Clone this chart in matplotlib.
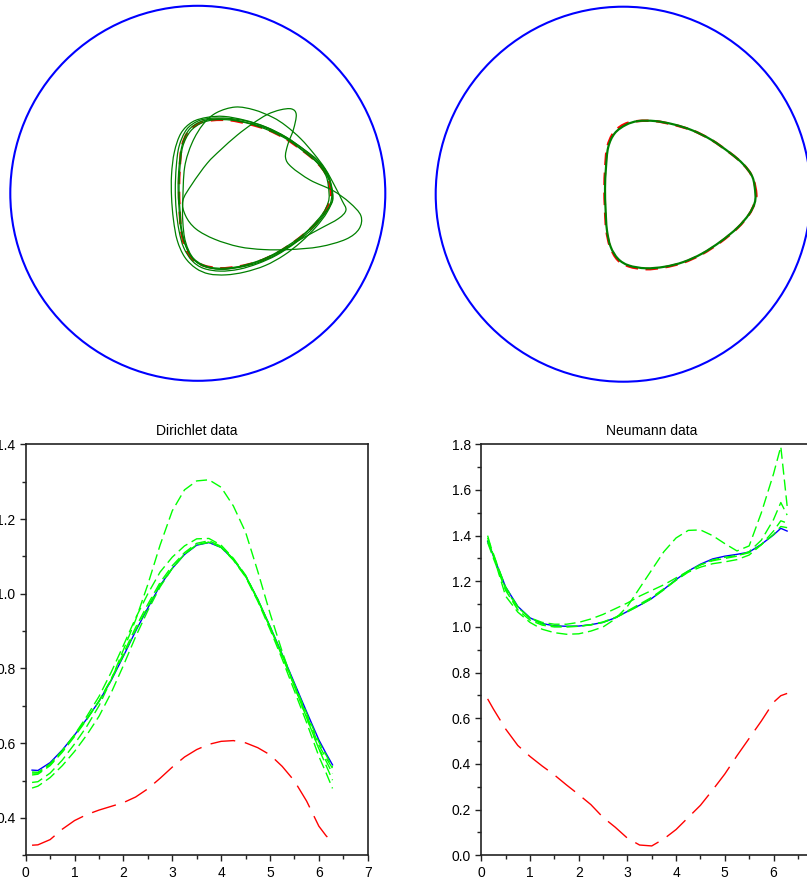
import numpy as np
import matplotlib
matplotlib.use("Agg")
import matplotlib.pyplot as plt
from matplotlib.patches import Circle, PathPatch
from matplotlib.path import Path
from matplotlib.ticker import MultipleLocator, FormatStrFormatter

plt.rcParams["font.family"] = ["Liberation Sans", "DejaVu Sans"]

# ---------------------------------------------------------------------------
# boundary data, sampled on the unit circle parameter t
# ---------------------------------------------------------------------------
t = [0.13, 0.25, 0.5, 0.75, 1.0, 1.25, 1.5, 1.75, 2.0, 2.25, 2.5, 2.75, 3.0,
     3.25, 3.5, 3.75, 4.0, 4.25, 4.5, 4.75, 5.0, 5.25, 5.5, 5.75, 6.0, 6.15, 6.28]

dir_true = [0.528, 0.527, 0.548, 0.582, 0.622, 0.665, 0.712, 0.768, 0.833, 0.900, 0.962,
            1.022, 1.068, 1.105, 1.130, 1.137, 1.124, 1.092, 1.048, 0.985, 0.913, 0.838,
            0.761, 0.684, 0.609, 0.572, 0.542]
dir_init = [0.327, 0.328, 0.342, 0.370, 0.393, 0.409, 0.421, 0.431, 0.441, 0.456, 0.478,
            0.506, 0.536, 0.563, 0.583, 0.597, 0.605, 0.607, 0.601, 0.588, 0.569, 0.538,
            0.499, 0.445, 0.378, 0.352, 0.335]
dir_iter = [
    [0.495, 0.497, 0.520, 0.555, 0.598, 0.645, 0.700, 0.770, 0.850, 0.930, 1.025, 1.130, 1.222,
     1.278, 1.302, 1.305, 1.285, 1.235, 1.165, 1.060, 0.948, 0.845, 0.752, 0.668, 0.585, 0.552, 0.519],
    [0.520, 0.520, 0.543, 0.580, 0.623, 0.672, 0.725, 0.790, 0.862, 0.935, 1.000, 1.058, 1.098,
     1.128, 1.147, 1.148, 1.130, 1.095, 1.050, 0.985, 0.912, 0.835, 0.755, 0.675, 0.595, 0.560, 0.533],
    [0.515, 0.517, 0.540, 0.576, 0.618, 0.663, 0.712, 0.772, 0.840, 0.910, 0.972, 1.030, 1.075,
     1.110, 1.135, 1.142, 1.127, 1.093, 1.047, 0.983, 0.910, 0.832, 0.752, 0.668, 0.585, 0.540, 0.501],
    [0.480, 0.485, 0.508, 0.540, 0.578, 0.622, 0.672, 0.735, 0.808, 0.885, 0.955, 1.018, 1.068,
     1.106, 1.131, 1.138, 1.124, 1.090, 1.045, 0.980, 0.905, 0.825, 0.740, 0.655, 0.565, 0.520, 0.479],
    [0.523, 0.522, 0.545, 0.580, 0.621, 0.665, 0.713, 0.770, 0.835, 0.903, 0.965, 1.024, 1.068,
     1.106, 1.131, 1.138, 1.125, 1.092, 1.048, 0.985, 0.912, 0.836, 0.758, 0.680, 0.603, 0.568, 0.536],
]

neu_true = [1.375, 1.310, 1.175, 1.090, 1.040, 1.015, 1.005, 1.003, 1.004, 1.010, 1.020,
            1.040, 1.068, 1.095, 1.125, 1.165, 1.208, 1.245, 1.275, 1.298, 1.310, 1.318,
            1.328, 1.362, 1.403, 1.432, 1.420]
neu_init = [0.685, 0.640, 0.553, 0.481, 0.433, 0.391, 0.352, 0.308, 0.266, 0.222, 0.166,
            0.123, 0.075, 0.045, 0.041, 0.072, 0.113, 0.166, 0.219, 0.286, 0.356, 0.436,
            0.512, 0.588, 0.670, 0.699, 0.709]
neu_iter = [
    [1.400, 1.310, 1.135, 1.065, 1.020, 0.990, 0.975, 0.968, 0.970, 0.982, 1.000, 1.035, 1.090,
     1.170, 1.250, 1.330, 1.390, 1.423, 1.425, 1.400, 1.365, 1.333, 1.355, 1.500, 1.670, 1.790, 1.530],
    [1.390, 1.320, 1.165, 1.085, 1.040, 1.020, 1.012, 1.012, 1.020, 1.035, 1.055, 1.080, 1.105,
     1.135, 1.160, 1.185, 1.215, 1.245, 1.272, 1.290, 1.300, 1.310, 1.330, 1.380, 1.470, 1.545, 1.490],
    [1.370, 1.300, 1.160, 1.075, 1.030, 1.008, 1.000, 1.000, 1.003, 1.010, 1.022, 1.042, 1.070,
     1.100, 1.130, 1.168, 1.205, 1.240, 1.262, 1.277, 1.285, 1.295, 1.315, 1.360, 1.420, 1.465, 1.455],
    [1.380, 1.315, 1.175, 1.088, 1.038, 1.013, 1.004, 1.002, 1.003, 1.009, 1.020, 1.040, 1.066,
     1.094, 1.124, 1.163, 1.205, 1.243, 1.272, 1.294, 1.305, 1.313, 1.325, 1.360, 1.405, 1.440, 1.435],
]

# ---------------------------------------------------------------------------
# obstacles inside the unit disc (x, y points around each closed curve)
# ---------------------------------------------------------------------------
obst_true = [(0.71, 0.00), (0.69, 0.09), (0.64, 0.16), (0.57, 0.22), (0.47, 0.29), (0.37, 0.34),
             (0.27, 0.37), (0.17, 0.39), (0.08, 0.39), (0.01, 0.375), (-0.05, 0.33), (-0.085, 0.25),
             (-0.096, 0.14), (-0.10, 0.03), (-0.097, -0.08), (-0.09, -0.19), (-0.07, -0.28),
             (-0.03, -0.35), (0.03, -0.385), (0.12, -0.40), (0.22, -0.39), (0.32, -0.365),
             (0.42, -0.32), (0.52, -0.255), (0.61, -0.18), (0.67, -0.11), (0.70, -0.05)]

obst_iter = [
    [(0.70, 0.00), (0.685, 0.09), (0.635, 0.165), (0.565, 0.225), (0.47, 0.295), (0.37, 0.345),
     (0.27, 0.375), (0.17, 0.395), (0.08, 0.395), (0.01, 0.38), (-0.05, 0.335), (-0.085, 0.25),
     (-0.10, 0.14), (-0.105, 0.03), (-0.10, -0.08), (-0.09, -0.19), (-0.065, -0.28), (-0.025, -0.35),
     (0.035, -0.39), (0.12, -0.405), (0.22, -0.395), (0.32, -0.37), (0.42, -0.325), (0.52, -0.26),
     (0.60, -0.185), (0.665, -0.11), (0.695, -0.05)],
    [(0.72, -0.02), (0.70, 0.07), (0.65, 0.15), (0.575, 0.215), (0.48, 0.285), (0.38, 0.335),
     (0.28, 0.37), (0.18, 0.39), (0.09, 0.392), (0.02, 0.375), (-0.04, 0.33), (-0.08, 0.25),
     (-0.095, 0.14), (-0.10, 0.02), (-0.095, -0.09), (-0.085, -0.20), (-0.06, -0.29), (-0.02, -0.355),
     (0.04, -0.39), (0.13, -0.405), (0.23, -0.39), (0.33, -0.36), (0.43, -0.31), (0.53, -0.245),
     (0.62, -0.17), (0.68, -0.10), (0.71, -0.06)],
    [(0.715, 0.01), (0.695, 0.10), (0.64, 0.175), (0.565, 0.235), (0.47, 0.30), (0.37, 0.35),
     (0.26, 0.385), (0.16, 0.40), (0.07, 0.40), (0.0, 0.385), (-0.06, 0.34), (-0.10, 0.25),
     (-0.115, 0.14), (-0.12, 0.02), (-0.115, -0.09), (-0.10, -0.20), (-0.075, -0.29), (-0.03, -0.36),
     (0.03, -0.40), (0.12, -0.415), (0.22, -0.405), (0.32, -0.375), (0.42, -0.33), (0.52, -0.265),
     (0.61, -0.19), (0.67, -0.12), (0.705, -0.06)],
    [(0.72, -0.02), (0.70, 0.08), (0.645, 0.165), (0.57, 0.23), (0.47, 0.30), (0.36, 0.355),
     (0.25, 0.39), (0.14, 0.41), (0.05, 0.405), (-0.03, 0.38), (-0.09, 0.32), (-0.125, 0.22),
     (-0.14, 0.10), (-0.14, -0.02), (-0.13, -0.14), (-0.11, -0.25), (-0.07, -0.34), (-0.01, -0.40),
     (0.06, -0.43), (0.15, -0.435), (0.25, -0.42), (0.36, -0.385), (0.46, -0.33), (0.55, -0.26),
     (0.63, -0.18), (0.69, -0.10)],
    [(-0.08, -0.04), (-0.07, 0.14), (-0.03, 0.27), (0.03, 0.37), (0.10, 0.43), (0.20, 0.46),
     (0.30, 0.445), (0.40, 0.405), (0.47, 0.36), (0.55, 0.29), (0.62, 0.21), (0.68, 0.13),
     (0.73, 0.04), (0.77, -0.04), (0.79, -0.09), (0.75, -0.135), (0.65, -0.19), (0.54, -0.25),
     (0.43, -0.315), (0.31, -0.365), (0.19, -0.395), (0.07, -0.395), (-0.02, -0.35),
     (-0.065, -0.26), (-0.08, -0.15)],
    [(-0.08, -0.04), (-0.03, 0.05), (0.05, 0.16), (0.12, 0.23), (0.21, 0.31), (0.29, 0.37),
     (0.37, 0.42), (0.44, 0.445), (0.50, 0.45), (0.525, 0.42), (0.51, 0.34), (0.48, 0.26),
     (0.468, 0.19), (0.50, 0.14), (0.60, 0.07), (0.72, 0.015), (0.81, -0.05), (0.87, -0.12),
     (0.86, -0.19), (0.79, -0.245), (0.65, -0.285), (0.49, -0.30), (0.35, -0.30), (0.22, -0.285),
     (0.09, -0.245), (-0.01, -0.19), (-0.065, -0.12)],
]

obst_final = [(0.705, 0.0), (0.69, 0.09), (0.64, 0.16), (0.57, 0.22), (0.47, 0.29), (0.37, 0.34),
              (0.27, 0.372), (0.17, 0.39), (0.08, 0.39), (0.015, 0.37), (-0.045, 0.325), (-0.08, 0.25),
              (-0.092, 0.14), (-0.097, 0.03), (-0.094, -0.08), (-0.087, -0.19), (-0.067, -0.28),
              (-0.027, -0.345), (0.03, -0.38), (0.12, -0.395), (0.22, -0.387), (0.32, -0.362),
              (0.42, -0.317), (0.52, -0.252), (0.61, -0.178), (0.67, -0.108), (0.70, -0.05)]


def closed_path(pts):
    """Smooth closed Bezier path (Catmull-Rom) through the given points."""
    p = np.asarray(pts, float)
    n = len(p)
    verts = [p[0]]
    codes = [Path.MOVETO]
    for i in range(n):
        p0, p1, p2, p3 = p[i - 1], p[i], p[(i + 1) % n], p[(i + 2) % n]
        verts += [p1 + (p2 - p0) / 6, p2 - (p3 - p1) / 6, p2]
        codes += [Path.CURVE4] * 3
    return Path(verts, codes)


def disc_axes(fig, cx, cy, rad):
    W, H = 807.0, 882.0
    half = 1.05 * rad
    ax = fig.add_axes([(cx - half) / W, (H - cy - half) / H, 2 * half / W, 2 * half / H])
    ax.set_xlim(-1.05, 1.05)
    ax.set_ylim(-1.05, 1.05)
    ax.set_axis_off()
    ax.add_patch(Circle((0, 0), 1.0, fill=False, ec="#0000ff", lw=1.5, clip_on=False))
    ax.add_patch(PathPatch(closed_path(obst_true), fill=False, ec="#ff0000", lw=1.8,
                           linestyle=(0, (5, 3)), clip_on=False))
    return ax


def data_axes(fig, left, right, ylo, yhi):
    W, H = 807.0, 882.0
    top, bottom = 444.3, 855.3
    ax = fig.add_axes([left / W, (H - bottom) / H, (right - left) / W, (bottom - top) / H])
    ax.set_xlim(0, 7)
    ax.set_ylim(ylo, yhi)
    ax.xaxis.set_major_locator(MultipleLocator(1))
    ax.xaxis.set_minor_locator(MultipleLocator(0.5))
    ax.yaxis.set_major_locator(MultipleLocator(0.2))
    ax.yaxis.set_minor_locator(MultipleLocator(0.1))
    ax.yaxis.set_major_formatter(FormatStrFormatter("%.1f"))
    ax.tick_params(which="both", direction="out", top=False, right=False,
                   labelsize=10, color="#222222", width=1.0)
    ax.tick_params(which="major", length=4.5, pad=3)
    ax.tick_params(which="minor", length=3)
    for s in ax.spines.values():
        s.set_linewidth(1.2)
        s.set_color("#222222")
    return ax


fig = plt.figure(figsize=(8.07, 8.82), dpi=100)

# 1) obstacle reconstructions over the iterations
ax1 = disc_axes(fig, 197.8, 193.3, 187.5)
for pts in obst_iter:
    ax1.add_patch(PathPatch(closed_path(pts), fill=False, ec="#008000", lw=0.9, clip_on=False))

# 2) final reconstruction
ax2 = disc_axes(fig, 623.2, 194.2, 187.5)
ax2.add_patch(PathPatch(closed_path(obst_final), fill=False, ec="#008000", lw=1.6, clip_on=False))

# 3) Dirichlet data
ax3 = data_axes(fig, 25.7, 367.7, 0.3, 1.4)
ax3.plot(t, dir_true, color="#0000ff", lw=1.0)
for ys in dir_iter:
    ax3.plot(t, ys, color="#00ff00", lw=1.0, dashes=(8, 3.5))
ax3.plot(t, dir_init, color="#ff0000", lw=1.0, dashes=(18, 7))
ax3.set_title("Dirichlet data", fontsize=10, pad=7)

# 4) Neumann data
ax4 = data_axes(fig, 481.3, 822.2, 0.0, 1.8)
ax4.plot(t, neu_true, color="#0000ff", lw=1.0)
for ys in neu_iter:
    ax4.plot(t, ys, color="#00ff00", lw=1.0, dashes=(8, 3.5))
ax4.plot(t, neu_init, color="#ff0000", lw=1.0, dashes=(18, 7))
ax4.set_title("Neumann data", fontsize=10, pad=7)

fig.savefig("out.png", dpi=100)
